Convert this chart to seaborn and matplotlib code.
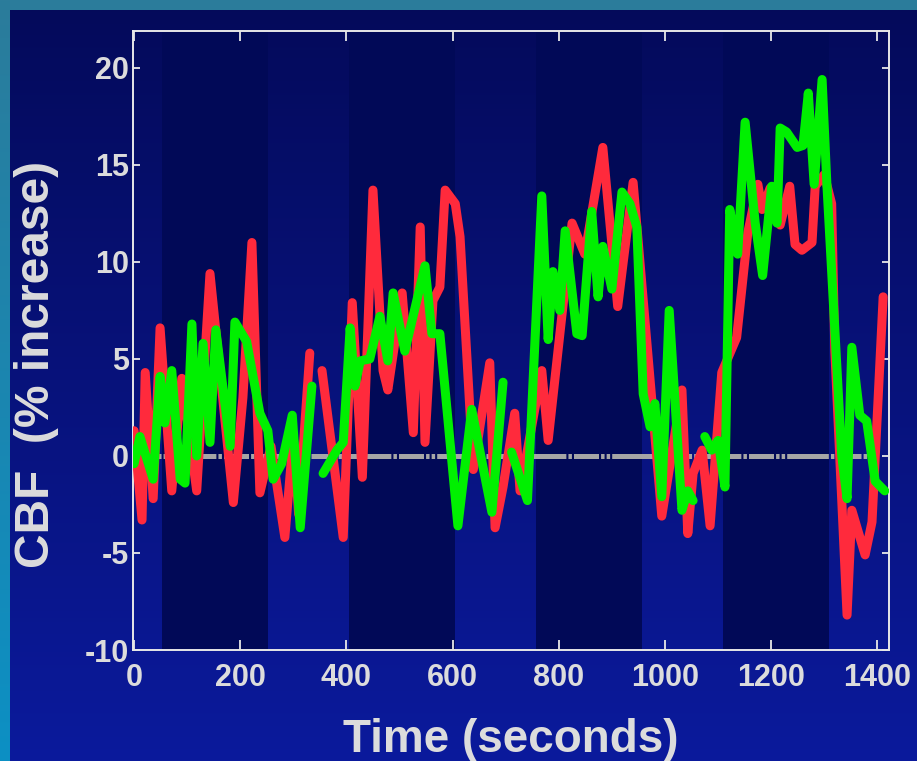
import numpy as np
import pandas as pd
import matplotlib
matplotlib.use("Agg")
import matplotlib.pyplot as plt
import seaborn as sns

# ---------------- data ----------------
red_t = [0, 15, 21, 36, 49, 71, 90, 118, 143, 187, 205, 222, 237, 258, 284, 300, 310, 331,
         np.nan,
         354, 394, 411, 430, 450, 469, 478, 505, 526, 539, 548, 563, 576, 586, 605, 614, 639,
         670, 680, 695, 717, 727, 768, 780, 825, 849, 883, 911, 940, 994, 1032, 1043, 1053,
         1070, 1085, 1107, 1135, 1156, 1175, 1183, 1198, 1217, 1235, 1245, 1258, 1277, 1283,
         1300, 1314, 1320, 1343, 1352, 1377, 1390, 1411]
red_v = [1.3, -3.3, 4.3, -2.2, 6.6, -1.8, 4.0, -1.8, 9.4, -2.4, 3.0, 11.0, -1.9, 0.5, -4.2, 1.0, -3.0, 5.3,
         np.nan,
         4.4, -4.2, 7.9, -1.1, 13.7, 4.4, 3.4, 8.4, 1.2, 11.8, 0.7, 8.0, 8.7, 13.7, 13.0, 11.3, -0.7,
         4.8, -3.7, -1.6, 2.2, -1.8, 4.4, 0.8, 12.0, 10.4, 15.9, 7.7, 14.1, -3.1, 3.4, -4.0, -0.9,
         0.3, -3.6, 4.3, 6.1, 11.5, 14.0, 12.7, 13.8, 11.9, 13.9, 10.9, 10.6, 11.0, 13.9,
         14.5, 13.0, 5.4, -8.2, -2.8, -5.1, -3.4, 8.2]

green_t = [0, 11, 36, 49, 58, 71, 87, 96, 109, 118, 130, 143, 154, 181, 190, 212, 237, 252, 262,
           278, 298, 313, 335,
           np.nan,
           356, 382, 394, 407, 416, 426, 444, 463, 478, 488, 510, 548, 561, 576, 610, 636, 674, 695,
           np.nan,
           711, 741, 768, 780, 789, 802, 812, 834, 844, 862, 874, 883, 900, 919, 934, 947, 959, 972,
           981, 994, 1008, 1032, 1043, 1053,
           np.nan,
           1075, 1088, 1100, 1113, 1122, 1137, 1151, 1170, 1184, 1201, 1211, 1217, 1229, 1249, 1260,
           1270, 1281, 1296, 1305, 1333, 1343, 1352, 1367, 1380, 1396, 1414]
green_v = [-0.4, 1.0, -1.2, 4.1, 1.7, 4.4, -1.2, -1.4, 6.8, 0.0, 5.8, 0.7, 6.5, 0.5, 6.9, 5.9, 2.2, 1.3, -1.2,
           -0.4, 2.1, -3.7, 3.6,
           np.nan,
           -0.9, 0.3, 0.7, 6.6, 3.6, 4.9, 5.0, 7.2, 4.9, 8.4, 5.4, 9.8, 6.3, 6.3, -3.6, 2.4, -2.9, 3.8,
           np.nan,
           0.2, -2.3, 13.4, 6.0, 9.5, 7.5, 11.6, 6.3, 6.2, 12.6, 8.2, 10.8, 8.6, 13.6, 13.0, 11.8, 3.2, 1.5,
           2.7, -2.1, 7.5, -2.8, -1.8, -2.3,
           np.nan,
           1.0, 0.3, 0.8, -1.6, 12.7, 10.4, 17.2, 12.0, 9.3, 13.9, 12.0, 16.9, 16.7, 15.9, 16.0,
           18.7, 14.0, 19.4, 14.0, 0.0, -2.2, 5.6, 2.1, 1.8, -1.3, -1.8]

band_start = [53, 405, 757, 1109]
band_end = [253, 605, 957, 1309]

baseline_t = [4, 1400]
baseline_v = [0, 0]

x_ticks = [0, 200, 400, 600, 800, 1000, 1200, 1400]
y_ticks = [-10, -5, 0, 5, 10, 15, 20]
x_label = "Time (seconds)"
y_label = "CBF  (% increase)"

# ---------------- style ----------------
sns.set_theme(style="ticks")
plt.rcParams["font.family"] = ["Liberation Sans", "DejaVu Sans"]
plt.rcParams["lines.scale_dashes"] = False
txt = "#dcdcdc"

W, H = 917, 761
fig = plt.figure(figsize=(W / 100, H / 100), dpi=100)

# background image (teal border + blue vertical gradient)
bg = fig.add_axes([0, 0, 1, 1], zorder=-10)
bg.axis("off")
img = np.zeros((H, W, 3))
top = np.array([0x04, 0x0a, 0x5a]) / 255
bot = np.array([0x0b, 0x1a, 0x9c]) / 255
f = np.linspace(0, 1, H)[:, None]
img[:, :, :] = (top + (bot - top) * f)[:, None, :]
teal_top = np.array([0x2b, 0x7c, 0x9b]) / 255
teal_bot = np.array([0x0c, 0x90, 0xc4]) / 255
img[:10, :, :] = teal_top
img[:, :10, :] = (teal_top + (teal_bot - teal_top) * f)[:, None, :]
bg.imshow(img, aspect="auto", extent=[0, 1, 0, 1], interpolation="bilinear")
bg.set_xlim(0, 1)
bg.set_ylim(0, 1)

ax = fig.add_axes([133 / W, 1 - 650 / H, (889 - 133) / W, (650 - 31) / H])
ax.patch.set_alpha(0)

for s, e in zip(band_start, band_end):
    ax.axvspan(s, e, color="#010957", lw=0, zorder=0)


def segments(t, v):
    segs, cur_t, cur_v = [], [], []
    for a, b in zip(t, v):
        if np.isnan(a) or np.isnan(b):
            if cur_t:
                segs.append((cur_t, cur_v))
            cur_t, cur_v = [], []
        else:
            cur_t.append(a)
            cur_v.append(b)
    if cur_t:
        segs.append((cur_t, cur_v))
    return segs


sns.lineplot(x=baseline_t, y=baseline_v, ax=ax, color="#a6a6a6", lw=3.6,
             dashes=False, zorder=2, estimator=None)
ax.lines[-1].set_dashes([18, 1.5, 2.5, 1.5, 2.5, 1.5, 30, 1.5, 2.5, 1.5])
ax.lines[-1].set_dash_capstyle("butt")

for st, sv in segments(red_t, red_v):
    sns.lineplot(x=st, y=sv, ax=ax, color="#ff2a3c", lw=6.5, sort=False,
                 estimator=None, zorder=3)
for st, sv in segments(green_t, green_v):
    sns.lineplot(x=st, y=sv, ax=ax, color="#00f000", lw=6.5, sort=False,
                 estimator=None, zorder=4)
for ln in ax.lines[1:]:
    ln.set_solid_capstyle("round")
    ln.set_solid_joinstyle("round")

ax.set_xlim(-2, 1422)
ax.set_ylim(-10, 21.9)
ax.set_xticks(x_ticks)
ax.set_yticks(y_ticks)
ax.set_xticklabels([str(v) for v in x_ticks], fontsize=22, fontweight="bold", color=txt)
ax.set_yticklabels([str(v) for v in y_ticks], fontsize=22, fontweight="bold", color=txt)
ax.tick_params(axis="x", direction="in", length=7, width=1.3, color="#e8e8e8",
               top=True, bottom=True, pad=9)
ax.tick_params(axis="y", direction="in", length=5, width=1.3, color="#e8e8e8",
               left=True, right=True, pad=3)
for sp in ax.spines.values():
    sp.set_visible(True)
    sp.set_color("#e8e8e8")
    sp.set_linewidth(1.4)
ax.set_xlabel("")
ax.set_ylabel("")

fig.text(511 / W, 1 - 740 / H, x_label, ha="center", va="center",
         fontsize=33, fontweight="bold", color=txt)
fig.text(37 / W, 1 - 364 / H, y_label, ha="center", va="center", rotation=90,
         fontsize=34.5, fontweight="bold", color=txt)

fig.savefig("out.png", dpi=100)
